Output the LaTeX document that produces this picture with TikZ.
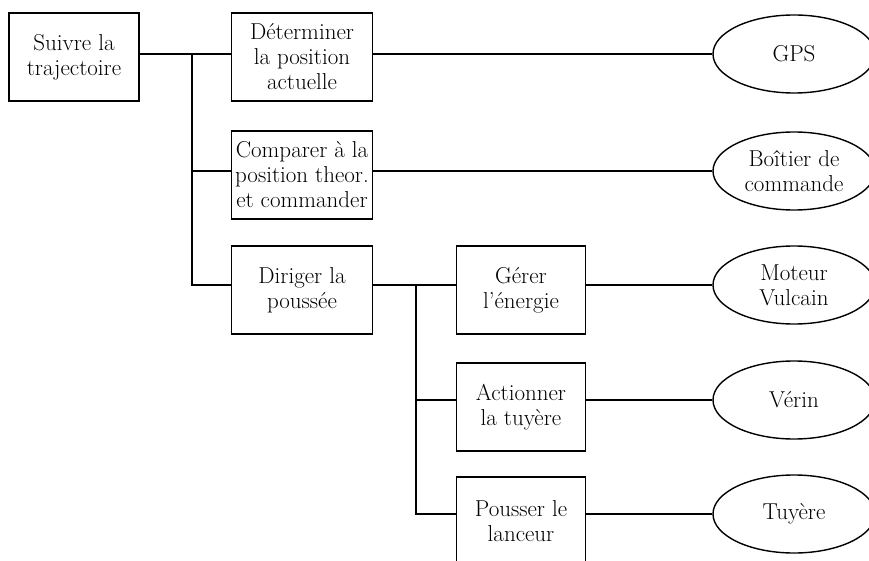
\documentclass[tikz,border=0pt]{standalone}
\usetikzlibrary{shapes.geometric}
\begin{document}
\begin{tikzpicture}
  [
    x=1pt, y=-1pt,
    line width=1.4pt,
    fonction/.style={draw, minimum width=141, minimum height=88, inner sep=1pt,
      align=center, font=\fontsize{23pt}{25pt}\selectfont},
    composant/.style={draw, ellipse, minimum width=162, minimum height=78, inner sep=0pt,
      align=center, font=\fontsize{23pt}{25pt}\selectfont},
  ]

  % frame
  \useasboundingbox (0,0) rectangle (869,561);
  \clip (0,0) rectangle (869,561);

  % fonctions
  \node [fonction, minimum width=130] (suivre) at (74,57) {Suivre la\\trajectoire};
  \node [fonction] (determ) at (302,57) {Déterminer\\la position\\actuelle};
  \node [fonction] (comparer) at (302,175) {Comparer à la\\position theor.\\et commander};
  \node [fonction] (diriger) at (302,290) {Diriger la\\poussée};
  \node [fonction, minimum width=129] (gerer) at (521,290) {Gérer\\l'énergie};
  \node [fonction, minimum width=129] (actionner) at (521,407) {Actionner\\la tuyère};
  \node [fonction, minimum width=129] (pousser) at (521,521) {Pousser le\\lanceur};

  % composants
  \node [composant] (gps) at (794,54) {GPS};
  \node [composant] (boitier) at (794,171) {Boîtier de\\commande};
  \node [composant] (moteur) at (794,285) {Moteur\\Vulcain};
  \node [composant] (verin) at (794,400) {Vérin};
  \node [composant] (tuyere) at (794,514) {Tuyère};

  % branches
  \coordinate (n1) at (192,54);
  \coordinate (n2) at (416,285);
  \draw (suivre.east |- n1) -- (determ.west |- n1);
  \draw (n1) |- (comparer.west |- boitier);
  \draw (n1) |- (diriger.west |- moteur);
  \draw (diriger.east |- n2) -- (gerer.west |- n2);
  \draw (n2) |- (actionner.west |- verin);
  \draw (n2) |- (pousser.west |- tuyere);
  \foreach \f/\c in {determ/gps, comparer/boitier, gerer/moteur, actionner/verin, pousser/tuyere} {
    \draw (\f.east |- \c) -- (\c.west);
  }

\end{tikzpicture}
\end{document}
